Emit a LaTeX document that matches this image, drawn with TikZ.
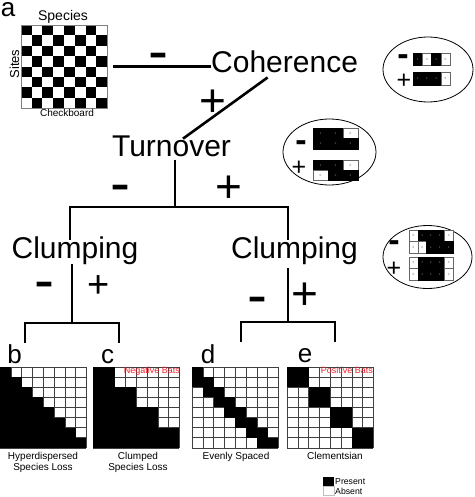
\documentclass[tikz,border=0pt]{standalone}
\usepackage{fontspec}
\setmainfont{Liberation Sans}
\definecolor{batred}{RGB}{235,35,45}
\newcommand{\fsz}[1]{\fontsize{#1}{#1}\selectfont}
\newcommand{\keyrow}[6]{%
	\foreach \v [count=\k] in {#6}
		\node[k\v,minimum width=#4pt,minimum height=#5pt] (#1\k) at (#2+#4*\k-#4/2,#3) {\v};}
\begin{document}
\begin{tikzpicture}[x=1pt,y=-1pt,
	word/.style={font=\fsz{30},inner sep=0,anchor=base},
	letter/.style={font=\fsz{26},inner sep=0,anchor=base},
	minussign/.style={font=\fsz{60},inner sep=0,anchor=base,yshift=-16.3pt},
	plussign/.style={font=\fsz{#1},inner sep=0,anchor=base,yshift={-0.353*#1pt}},
	plussign/.default=46,
	sminus/.style={font=\fsz{34}\bfseries,inner sep=0,anchor=base,yshift=-8.8pt},
	splus/.style={font=\fsz{25},inner sep=0,anchor=base,yshift=-8.8pt},
	link/.style={line width=2.6pt},
	grd/.style={draw=black!75,line width=0.5pt},
	undertext/.style={font=\fontsize{10}{11}\selectfont,inner sep=0,anchor=north,align=center},
	bats/.style={font=\fsz{9},text=batred,inner sep=0,anchor=base east},
	keyring/.style={line width=0.8pt},
	kcell/.style={draw=black!60,line width=0.3pt,inner sep=0,font=\fsz{3}},
	k1/.style={kcell,fill=black,draw=black,text=black!45},
	k0/.style={kcell,fill=white,text=black!55}]
\useasboundingbox (0,0) rectangle (474,497);
% checkerboard
\foreach \i in {0,...,7}
	\foreach \j in {0,...,7} {
		\pgfmathtruncatemacro{\cellp}{mod(\i+\j,2)}
		\ifnum\cellp=0 \fill (20.7+10.8*\i,25+10.4*\j) rectangle ++(10.8,10.4); \fi
	}
\node[draw=black!50,line width=0.4pt,inner sep=0,minimum width=86.4pt,minimum height=83.2pt] (board) at (63.9,66.6) {};
\node[font=\fsz{14},inner sep=0,anchor=base] (species) at (63,21) {Species};
\node[font=\fsz{13},inner sep=0,rotate=90,anchor=base] (sites) at (19,64) {Sites};
\node[font=\fsz{10},inner sep=0,anchor=base] (chk) at (67,117) {Checkboard};
\node[letter] (la) at (8,17) {a};

% tree
\node[word,anchor=base west] (coh) at (211,73) {Coherence};
\node[word] (turn) at (171.5,157) {Turnover};
\node[word] (clL) at (75,258) {Clumping};
\node[word] (clR) at (294.5,258) {Clumping};

\node[minussign] (cohm) at (158,55) {-};
\node[plussign] (cohp) at (213,100) {+};
\node[minussign] (turnm) at (120,187) {-};
\node[plussign] (turnp) at (229,186) {+};
\node[minussign] (clLm) at (44,284) {-};
\node[plussign=38] (clLp) at (99,284) {+};
\node[minussign] (clRm) at (257,299) {-};
\node[plussign] (clRp) at (305,293) {+};

\draw[link] ([xshift=6pt]board.east) -- (board.east -| coh.west);
\draw[link] ([xshift=-17pt,yshift=-4pt]coh.south) -- ([xshift=11.5pt,yshift=-2.5pt]turn.north);
\coordinate (split) at (175,207);
\draw[link] ([xshift=3.5pt,yshift=-3pt]turn.south) -- (split);
\draw[link] ([xshift=-5pt,yshift=-3.5pt]clL.north) |- (split) -| ([xshift=-6.5pt,yshift=-3.5pt]clR.north);

\coordinate (jL) at (72,323);
\coordinate (legB) at (25,343);
\coordinate (legC) at (119,343);
\draw[link] ([xshift=-3pt]clL.south) -- (jL);
\draw[link] (legB) |- (jL) -| (legC);
\coordinate (jR) at (288,322);
\coordinate (legD) at (241,342);
\coordinate (legE) at (335,342);
\draw[link] ([xshift=-6.5pt,yshift=-4pt]clR.south) -- (jR);
\draw[link] (legD) |- (jR) -| (legE);

% keys
\draw[keyring] (428,69.5) ellipse [x radius=45pt,y radius=32.5pt];
\draw[keyring] (329.5,152) ellipse [x radius=46.5pt,y radius=33pt];
\draw[keyring] (427.5,257) ellipse [x radius=44.5pt,y radius=31.5pt];
\keyrow{ka}{413}{59}{9.25}{12}{1,0,1,0}
\keyrow{kb}{413}{78.5}{9.25}{12.5}{1,1,1,0}
\keyrow{kc}{313}{133.25}{15}{10.5}{1,1,0}
\keyrow{kd}{313}{143.75}{15}{10.5}{1,1,1}
\keyrow{ke}{313}{165}{15}{10}{1,1,0}
\keyrow{kf}{313}{175}{15}{10}{0,1,1}
\keyrow{kg}{409}{235.75}{8.8}{11.5}{0,1,1,1,0}
\keyrow{kh}{409}{247.25}{8.8}{11.5}{0,0,1,1,1}
\keyrow{ki}{409}{262.75}{8.8}{11.5}{0,1,1,1,0}
\keyrow{kj}{409}{274.25}{8.8}{11.5}{0,1,1,1,0}
\node[sminus] (kam) at (403,57) {-};
\node[splus] (kap) at (404,80) {+};
\node[sminus] (kcm) at (301,143) {-};
\node[splus] (kcp) at (299,167) {+};
\node[sminus] (kgm) at (394,243) {-};
\node[splus] (kgp) at (394,268) {+};

% matrices
\node[letter] (lb) at (14.5,363) {b};
\node[letter] (lc) at (107.5,363) {c};
\node[letter] (ld) at (208,363) {d};
\node[letter] (le) at (305,362) {e};
\begin{scope}[shift={(0,367)},x=10.8pt,y=-10.1pt]
	\foreach \i in {0,...,8} \draw[grd] (\i,0) -- (\i,8) (0,\i) -- (8,\i);
	\foreach \r in {1,...,8} \fill (0,\r-1) rectangle (\r,\r);
\end{scope}
\begin{scope}[shift={(93,367)},x=10.8pt,y=-10.1pt]
	\foreach \i in {0,...,8} \draw[grd] (\i,0) -- (\i,8) (0,\i) -- (8,\i);
	\foreach \r in {2,4,6,8} \fill (0,\r-2) rectangle (\r,\r);
\end{scope}
\begin{scope}[shift={(192,367)},x=10.8pt,y=-10.1pt]
	\foreach \i in {0,...,8} \draw[grd] (\i,0) -- (\i,8) (0,\i) -- (8,\i);
	\fill (0,0) rectangle (1,1);
	\foreach \r in {2,...,8} \fill (\r-2,\r-1) rectangle (\r,\r);
\end{scope}
\begin{scope}[shift={(287,367)},x=10.8pt,y=-10.1pt]
	\foreach \i in {0,...,8} \draw[grd] (\i,0) -- (\i,8) (0,\i) -- (8,\i);
	\foreach \r in {2,4,6,8} \fill (\r-2,\r-2) rectangle (\r,\r);
\end{scope}
\node[bats] (negb) at (180,373) {Negative Bats};
\node[bats] (posb) at (373,373) {Positive Bats};
\node[undertext] (capb) at (43,452) {Hyperdispersed\\Species Loss};
\node[undertext] (capc) at (138,452) {Clumped\\Species Loss};
\node[undertext] (capd) at (236,452) {Evenly Spaced};
\node[undertext] (cape) at (335,452) {Clementsian};

% legend
\node[fill=black,inner sep=0,minimum width=11pt,minimum height=9pt] (presbox) at (328.5,481.5) {};
\node[draw=black!25,line width=0.3pt,fill=white,inner sep=0,minimum width=11pt,minimum height=9pt] (absbox) at (328.5,491) {};
\node[font=\fsz{8.7},inner sep=0,anchor=base west] (prestxt) at (335,484) {Present};
\node[font=\fsz{8.7},inner sep=0,anchor=base west] (abstxt) at (335,494) {Absent};
\end{tikzpicture}
\end{document}
